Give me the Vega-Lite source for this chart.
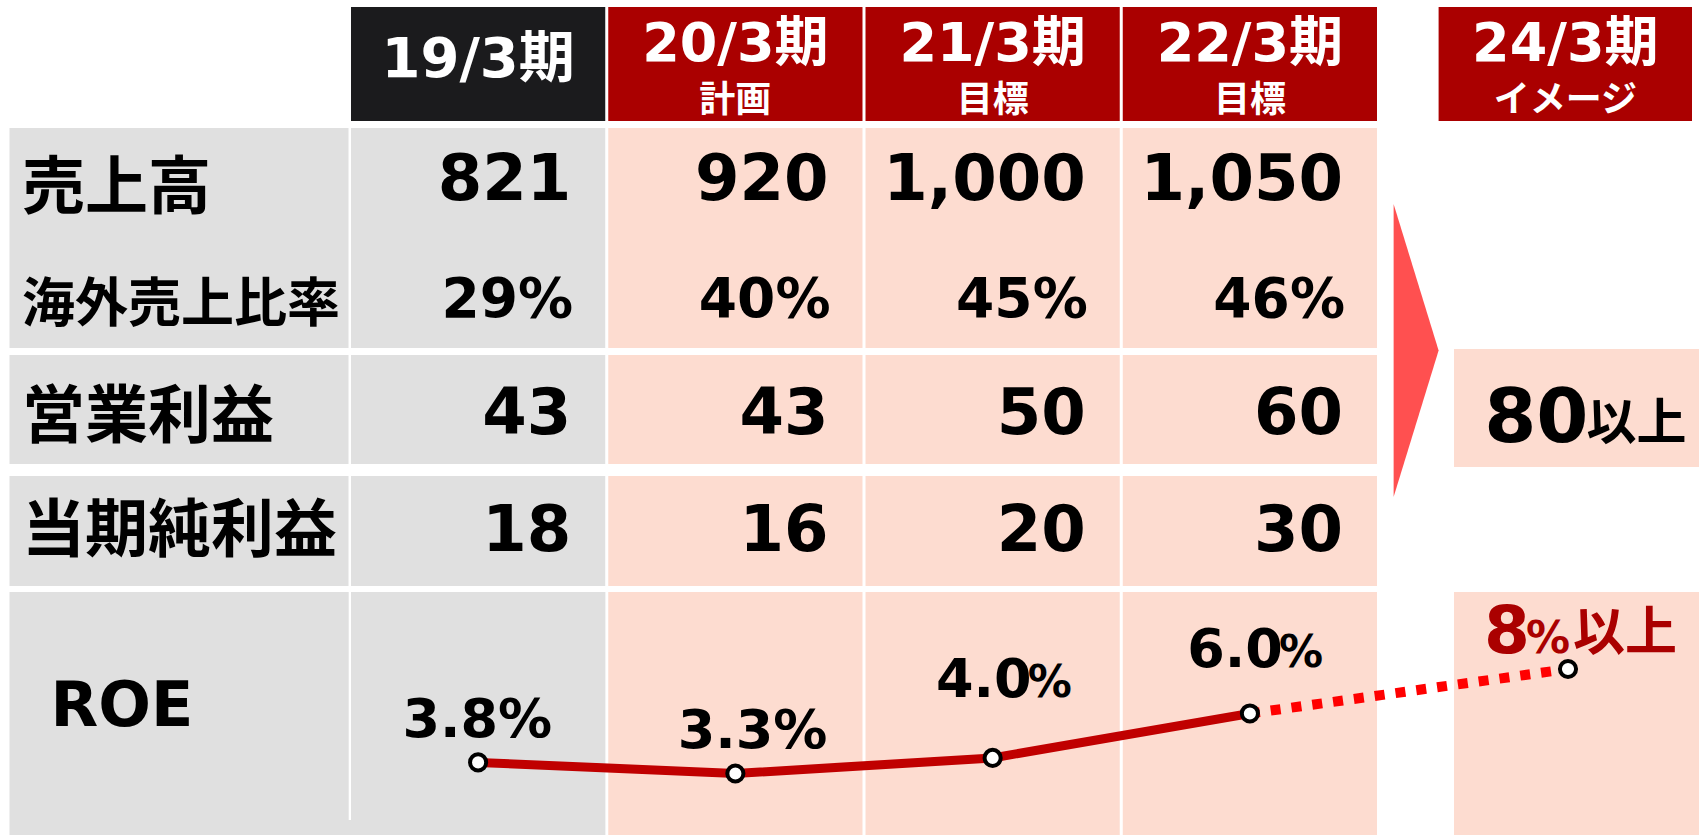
{
 "$schema": "https://vega.github.io/schema/vega-lite/v6.json",
 "width": 1699, "height": 835, "padding": 0, "autosize": {"type": "none"},
 "background": "#FFFFFF",
 "config": {"view": {"stroke": null}, "text": {"fontWeight": "bold"}},
 "datasets": {
  "periods": [
   {"period": "19/3期", "note": "", "kind": "実績"},
   {"period": "20/3期", "note": "計画", "kind": "計画"},
   {"period": "21/3期", "note": "目標", "kind": "目標"},
   {"period": "22/3期", "note": "目標", "kind": "目標"}
  ],
  "image": [{"period": "24/3期", "note": "イメージ", "op": 80, "roe": 8}],
  "metrics": [{"metric": "売上高"}, {"metric": "海外売上比率"}, {"metric": "営業利益"}, {"metric": "当期純利益"}, {"metric": "ROE"}],
  "values": [
   {"period": "19/3期", "metric": "売上高", "value": 821},
   {"period": "20/3期", "metric": "売上高", "value": 920},
   {"period": "21/3期", "metric": "売上高", "value": 1000},
   {"period": "22/3期", "metric": "売上高", "value": 1050},
   {"period": "19/3期", "metric": "海外売上比率", "value": 0.29},
   {"period": "20/3期", "metric": "海外売上比率", "value": 0.40},
   {"period": "21/3期", "metric": "海外売上比率", "value": 0.45},
   {"period": "22/3期", "metric": "海外売上比率", "value": 0.46},
   {"period": "19/3期", "metric": "営業利益", "value": 43},
   {"period": "20/3期", "metric": "営業利益", "value": 43},
   {"period": "21/3期", "metric": "営業利益", "value": 50},
   {"period": "22/3期", "metric": "営業利益", "value": 60},
   {"period": "19/3期", "metric": "当期純利益", "value": 18},
   {"period": "20/3期", "metric": "当期純利益", "value": 16},
   {"period": "21/3期", "metric": "当期純利益", "value": 20},
   {"period": "22/3期", "metric": "当期純利益", "value": 30}
  ],
  "roe": [
   {"period": "19/3期", "fy": 2019, "roe": 3.8},
   {"period": "20/3期", "fy": 2020, "roe": 3.3},
   {"period": "21/3期", "fy": 2021, "roe": 4.0},
   {"period": "22/3期", "fy": 2022, "roe": 6.0},
   {"period": "24/3期", "fy": 2024, "roe": 8.0}
  ]
 },
 "resolve": {"scale": {"x": "independent", "y": "independent", "size": "independent"}},
 "layer": [
  {"data": {"name": "periods"}, "mark": {"type": "rect"},
   "encoding": {
    "x": {"field": "period", "type": "nominal", "scale": {"type": "band", "domain": ["19/3期", "20/3期", "21/3期", "22/3期"], "range": [351, 1377], "paddingInner": 0.0117, "paddingOuter": 0}, "axis": null},
    "y": {"datum": "見出し", "type": "nominal", "scale": {"type": "band", "domain": ["見出し"], "range": [7, 121], "paddingInner": 0, "paddingOuter": 0}, "axis": null},
    "color": {"condition": {"test": "datum.kind === '実績'", "value": "#1B1B1D"}, "value": "#AA0000"}}},
  {"data": {"name": "image"}, "mark": {"type": "rect", "color": "#AA0000"},
   "encoding": {
    "x": {"field": "period", "type": "nominal", "scale": {"type": "band", "domain": ["24/3期"], "range": [1438.6, 1692], "paddingInner": 0, "paddingOuter": 0}, "axis": null},
    "y": {"datum": "見出し", "type": "nominal", "scale": {"type": "band", "domain": ["見出し"], "range": [7, 121], "paddingInner": 0, "paddingOuter": 0}, "axis": null}}},
  {"data": {"name": "periods"}, "transform": [{"filter": "datum.note === ''"}],
   "mark": {"type": "text", "font": "DejaVu Sans, Noto Sans CJK JP", "fontSize": 56, "fontWeight": "bold", "color": "#FFFFFF", "align": "center", "baseline": "alphabetic", "dy": 13},
   "encoding": {
    "x": {"field": "period", "type": "nominal", "scale": {"type": "band", "domain": ["19/3期", "20/3期", "21/3期", "22/3期"], "range": [351, 1377], "paddingInner": 0.0117, "paddingOuter": 0}, "axis": null},
    "y": {"datum": "見出し", "type": "nominal", "scale": {"type": "band", "domain": ["見出し"], "range": [7, 121], "paddingInner": 0, "paddingOuter": 0}, "axis": null},
    "text": {"field": "period"}}},
  {"data": {"name": "periods"}, "transform": [{"filter": "datum.note !== ''"}],
   "mark": {"type": "text", "font": "DejaVu Sans, Noto Sans CJK JP", "fontSize": 54, "fontWeight": "bold", "color": "#FFFFFF", "align": "center", "baseline": "alphabetic", "dy": -3},
   "encoding": {
    "x": {"field": "period", "type": "nominal", "scale": {"type": "band", "domain": ["19/3期", "20/3期", "21/3期", "22/3期"], "range": [351, 1377], "paddingInner": 0.0117, "paddingOuter": 0}, "axis": null},
    "y": {"datum": "見出し", "type": "nominal", "scale": {"type": "band", "domain": ["見出し"], "range": [7, 121], "paddingInner": 0, "paddingOuter": 0}, "axis": null},
    "text": {"field": "period"}}},
  {"data": {"name": "periods"}, "transform": [{"filter": "datum.note !== ''"}],
   "mark": {"type": "text", "font": "Noto Sans CJK JP", "fontSize": 36, "fontWeight": "bold", "color": "#FFFFFF", "align": "center", "baseline": "alphabetic", "dy": 48},
   "encoding": {
    "x": {"field": "period", "type": "nominal", "scale": {"type": "band", "domain": ["19/3期", "20/3期", "21/3期", "22/3期"], "range": [351, 1377], "paddingInner": 0.0117, "paddingOuter": 0}, "axis": null},
    "y": {"datum": "見出し", "type": "nominal", "scale": {"type": "band", "domain": ["見出し"], "range": [7, 121], "paddingInner": 0, "paddingOuter": 0}, "axis": null},
    "text": {"field": "note"}}},
  {"data": {"name": "image"},
   "mark": {"type": "text", "font": "DejaVu Sans, Noto Sans CJK JP", "fontSize": 54, "fontWeight": "bold", "color": "#FFFFFF", "align": "center", "baseline": "alphabetic", "dy": -3},
   "encoding": {
    "x": {"field": "period", "type": "nominal", "scale": {"type": "band", "domain": ["24/3期"], "range": [1438.6, 1692], "paddingInner": 0, "paddingOuter": 0}, "axis": null},
    "y": {"datum": "見出し", "type": "nominal", "scale": {"type": "band", "domain": ["見出し"], "range": [7, 121], "paddingInner": 0, "paddingOuter": 0}, "axis": null},
    "text": {"field": "period"}}},
  {"data": {"name": "image"},
   "mark": {"type": "text", "font": "Noto Sans CJK JP", "fontSize": 36, "fontWeight": "bold", "color": "#FFFFFF", "align": "center", "baseline": "alphabetic", "dy": 48},
   "encoding": {
    "x": {"field": "period", "type": "nominal", "scale": {"type": "band", "domain": ["24/3期"], "range": [1438.6, 1692], "paddingInner": 0, "paddingOuter": 0}, "axis": null},
    "y": {"datum": "見出し", "type": "nominal", "scale": {"type": "band", "domain": ["見出し"], "range": [7, 121], "paddingInner": 0, "paddingOuter": 0}, "axis": null},
    "text": {"field": "note"}}},
  {"data": {"name": "periods"}, "mark": {"type": "rect"},
   "encoding": {
    "x": {"field": "period", "type": "nominal", "scale": {"type": "band", "domain": ["19/3期", "20/3期", "21/3期", "22/3期"], "range": [351, 1377], "paddingInner": 0.0117, "paddingOuter": 0}, "axis": null},
    "y": {"datum": "売上高", "type": "nominal", "scale": {"type": "band", "domain": ["売上高"], "range": [128, 348], "paddingInner": 0, "paddingOuter": 0}, "axis": null},
    "color": {"condition": {"test": "datum.kind === '実績'", "value": "#E0E0E0"}, "value": "#FDDCD0"}}},
  {"data": {"name": "periods"}, "mark": {"type": "rect"},
   "encoding": {
    "x": {"field": "period", "type": "nominal", "scale": {"type": "band", "domain": ["19/3期", "20/3期", "21/3期", "22/3期"], "range": [351, 1377], "paddingInner": 0.0117, "paddingOuter": 0}, "axis": null},
    "y": {"datum": "営業利益", "type": "nominal", "scale": {"type": "band", "domain": ["営業利益"], "range": [355, 464], "paddingInner": 0, "paddingOuter": 0}, "axis": null},
    "color": {"condition": {"test": "datum.kind === '実績'", "value": "#E0E0E0"}, "value": "#FDDCD0"}}},
  {"data": {"name": "periods"}, "mark": {"type": "rect"},
   "encoding": {
    "x": {"field": "period", "type": "nominal", "scale": {"type": "band", "domain": ["19/3期", "20/3期", "21/3期", "22/3期"], "range": [351, 1377], "paddingInner": 0.0117, "paddingOuter": 0}, "axis": null},
    "y": {"datum": "当期純利益", "type": "nominal", "scale": {"type": "band", "domain": ["当期純利益"], "range": [476, 586], "paddingInner": 0, "paddingOuter": 0}, "axis": null},
    "color": {"condition": {"test": "datum.kind === '実績'", "value": "#E0E0E0"}, "value": "#FDDCD0"}}},
  {"data": {"name": "periods"}, "mark": {"type": "rect"},
   "encoding": {
    "x": {"field": "period", "type": "nominal", "scale": {"type": "band", "domain": ["19/3期", "20/3期", "21/3期", "22/3期"], "range": [351, 1377], "paddingInner": 0.0117, "paddingOuter": 0}, "axis": null},
    "y": {"datum": "ROE", "type": "nominal", "scale": {"type": "band", "domain": ["ROE"], "range": [592, 835], "paddingInner": 0, "paddingOuter": 0}, "axis": null},
    "color": {"condition": {"test": "datum.kind === '実績'", "value": "#E0E0E0"}, "value": "#FDDCD0"}}},
  {"data": {"name": "metrics"}, "transform": [{"filter": "datum.metric === '売上高'"}], "mark": {"type": "rect", "color": "#E0E0E0"},
   "encoding": {
    "x": {"datum": "項目", "type": "nominal", "scale": {"type": "band", "domain": ["項目"], "range": [9.5, 348.5], "paddingInner": 0, "paddingOuter": 0}, "axis": null},
    "y": {"field": "metric", "type": "nominal", "scale": {"type": "band", "domain": ["売上高"], "range": [128, 348], "paddingInner": 0, "paddingOuter": 0}, "axis": null}}},
  {"data": {"name": "metrics"}, "transform": [{"filter": "datum.metric === '営業利益'"}], "mark": {"type": "rect", "color": "#E0E0E0"},
   "encoding": {
    "x": {"datum": "項目", "type": "nominal", "scale": {"type": "band", "domain": ["項目"], "range": [9.5, 348.5], "paddingInner": 0, "paddingOuter": 0}, "axis": null},
    "y": {"field": "metric", "type": "nominal", "scale": {"type": "band", "domain": ["営業利益"], "range": [355, 464], "paddingInner": 0, "paddingOuter": 0}, "axis": null}}},
  {"data": {"name": "metrics"}, "transform": [{"filter": "datum.metric === '当期純利益'"}], "mark": {"type": "rect", "color": "#E0E0E0"},
   "encoding": {
    "x": {"datum": "項目", "type": "nominal", "scale": {"type": "band", "domain": ["項目"], "range": [9.5, 348.5], "paddingInner": 0, "paddingOuter": 0}, "axis": null},
    "y": {"field": "metric", "type": "nominal", "scale": {"type": "band", "domain": ["当期純利益"], "range": [476, 586], "paddingInner": 0, "paddingOuter": 0}, "axis": null}}},
  {"data": {"name": "metrics"}, "transform": [{"filter": "datum.metric === 'ROE'"}], "mark": {"type": "rect", "color": "#E0E0E0"},
   "encoding": {
    "x": {"datum": "項目", "type": "nominal", "scale": {"type": "band", "domain": ["項目"], "range": [9.5, 605.2], "paddingInner": 0, "paddingOuter": 0}, "axis": null},
    "y": {"field": "metric", "type": "nominal", "scale": {"type": "band", "domain": ["ROE"], "range": [592, 835], "paddingInner": 0, "paddingOuter": 0}, "axis": null}}},
  {"data": {"name": "metrics"}, "transform": [{"filter": "datum.metric === 'ROE'"}], "mark": {"type": "rect", "color": "#FFFFFF"},
   "encoding": {
    "x": {"datum": "区切り", "type": "nominal", "scale": {"type": "band", "domain": ["区切り"], "range": [348.7, 351], "paddingInner": 0, "paddingOuter": 0}, "axis": null},
    "y": {"field": "metric", "type": "nominal", "scale": {"type": "band", "domain": ["ROE"], "range": [592, 820], "paddingInner": 0, "paddingOuter": 0}, "axis": null}}},
  {"data": {"name": "image"}, "mark": {"type": "rect", "color": "#FDDCD0"},
   "encoding": {
    "x": {"field": "period", "type": "nominal", "scale": {"type": "band", "domain": ["24/3期"], "range": [1454, 1699], "paddingInner": 0, "paddingOuter": 0}, "axis": null},
    "y": {"datum": "営業利益", "type": "nominal", "scale": {"type": "band", "domain": ["営業利益"], "range": [349, 467], "paddingInner": 0, "paddingOuter": 0}, "axis": null}}},
  {"data": {"name": "image"}, "mark": {"type": "rect", "color": "#FDDCD0"},
   "encoding": {
    "x": {"field": "period", "type": "nominal", "scale": {"type": "band", "domain": ["24/3期"], "range": [1454, 1699], "paddingInner": 0, "paddingOuter": 0}, "axis": null},
    "y": {"datum": "ROE", "type": "nominal", "scale": {"type": "band", "domain": ["ROE"], "range": [592, 835], "paddingInner": 0, "paddingOuter": 0}, "axis": null}}},
  {"data": {"name": "image"}, "mark": {"type": "point", "shape": "M-0.1536,-1L0.1536,0L-0.1536,1Z", "size": 85849, "filled": true, "fill": "#FF5050", "strokeWidth": 0, "opacity": 1},
   "encoding": {
    "x": {"datum": "矢印", "type": "nominal", "scale": {"type": "band", "domain": ["矢印"], "range": [1393.6, 1438.6], "paddingInner": 0, "paddingOuter": 0}, "axis": null},
    "y": {"datum": "矢印", "type": "nominal", "scale": {"type": "band", "domain": ["矢印"], "range": [204, 497], "paddingInner": 0, "paddingOuter": 0}, "axis": null}}},
  {"data": {"name": "metrics"}, "transform": [{"filter": "datum.metric !== 'ROE'"}],
   "mark": {"type": "text", "font": "Noto Sans CJK JP", "fontWeight": "bold", "color": "#000000", "align": "left", "baseline": "alphabetic", "dx": 12.5},
   "encoding": {
    "x": {"datum": "項目", "type": "nominal", "bandPosition": 0, "scale": {"type": "band", "domain": ["項目"], "range": [9.5, 348.5], "paddingInner": 0, "paddingOuter": 0}, "axis": null},
    "y": {"field": "metric", "type": "nominal", "scale": {"type": "point", "domain": ["売上高", "海外売上比率", "営業利益", "当期純利益"], "range": [208, 551.3], "padding": 0}, "axis": null},
    "text": {"field": "metric"},
    "size": {"condition": {"test": "datum.metric === '海外売上比率'", "value": 53}, "value": 63}}},
  {"data": {"name": "metrics"}, "transform": [{"filter": "datum.metric === 'ROE'"}],
   "mark": {"type": "text", "font": "DejaVu Sans, Noto Sans CJK JP", "fontSize": 62, "fontWeight": "bold", "color": "#000000", "align": "left", "baseline": "alphabetic", "dx": 41, "dy": 12.5},
   "encoding": {
    "x": {"datum": "項目", "type": "nominal", "bandPosition": 0, "scale": {"type": "band", "domain": ["項目"], "range": [9.5, 348.5], "paddingInner": 0, "paddingOuter": 0}, "axis": null},
    "y": {"field": "metric", "type": "nominal", "scale": {"type": "band", "domain": ["ROE"], "range": [592, 835], "paddingInner": 0, "paddingOuter": 0}, "axis": null},
    "text": {"field": "metric"}}},
  {"data": {"name": "values"}, "transform": [{"filter": "datum.metric !== '海外売上比率'"}],
   "mark": {"type": "text", "font": "DejaVu Sans, Noto Sans CJK JP", "fontSize": 64, "fontWeight": "bold", "color": "#000000", "align": "right", "baseline": "alphabetic", "dx": -34},
   "encoding": {
    "x": {"field": "period", "type": "nominal", "bandPosition": 1, "scale": {"type": "band", "domain": ["19/3期", "20/3期", "21/3期", "22/3期"], "range": [351, 1377], "paddingInner": 0.0117, "paddingOuter": 0}, "axis": null},
    "y": {"field": "metric", "type": "nominal", "scale": {"type": "point", "domain": ["売上高", "海外売上比率", "営業利益", "当期純利益"], "range": [200, 551], "padding": 0}, "axis": null},
    "text": {"field": "value", "type": "quantitative", "format": ","}}},
  {"data": {"name": "values"}, "transform": [{"filter": "datum.metric === '海外売上比率'"}],
   "mark": {"type": "text", "font": "DejaVu Sans, Noto Sans CJK JP", "fontSize": 55, "fontWeight": "bold", "color": "#000000", "align": "right", "baseline": "alphabetic", "dx": -32},
   "encoding": {
    "x": {"field": "period", "type": "nominal", "bandPosition": 1, "scale": {"type": "band", "domain": ["19/3期", "20/3期", "21/3期", "22/3期"], "range": [351, 1377], "paddingInner": 0.0117, "paddingOuter": 0}, "axis": null},
    "y": {"field": "metric", "type": "nominal", "scale": {"type": "point", "domain": ["売上高", "海外売上比率", "営業利益", "当期純利益"], "range": [200, 551], "padding": 0}, "axis": null},
    "text": {"field": "value", "type": "quantitative", "format": ".0%"}}},
  {"data": {"name": "image"},
   "mark": {"type": "text", "font": "DejaVu Sans, Noto Sans CJK JP", "fontSize": 75, "fontWeight": "bold", "color": "#000000", "align": "right", "baseline": "alphabetic", "dx": 12, "dy": 34},
   "encoding": {
    "x": {"field": "period", "type": "nominal", "scale": {"type": "band", "domain": ["24/3期"], "range": [1454, 1699], "paddingInner": 0, "paddingOuter": 0}, "axis": null},
    "y": {"datum": "営業利益", "type": "nominal", "scale": {"type": "band", "domain": ["営業利益"], "range": [349, 467], "paddingInner": 0, "paddingOuter": 0}, "axis": null},
    "text": {"field": "op", "type": "quantitative", "format": "d"}}},
  {"data": {"name": "image"},
   "mark": {"type": "text", "text": "以上", "font": "Noto Sans CJK JP", "fontSize": 50, "fontWeight": "bold", "color": "#000000", "align": "left", "baseline": "alphabetic", "dx": 10, "dy": 32},
   "encoding": {
    "x": {"field": "period", "type": "nominal", "scale": {"type": "band", "domain": ["24/3期"], "range": [1454, 1699], "paddingInner": 0, "paddingOuter": 0}, "axis": null},
    "y": {"datum": "営業利益", "type": "nominal", "scale": {"type": "band", "domain": ["営業利益"], "range": [349, 467], "paddingInner": 0, "paddingOuter": 0}, "axis": null}}},
  {"data": {"name": "roe"}, "transform": [{"filter": "datum.fy <= 2022"}],
   "mark": {"type": "line", "color": "#C00000", "strokeWidth": 9},
   "encoding": {
    "x": {"field": "fy", "type": "quantitative", "scale": {"type": "linear", "domain": [2019, 2022, 2024], "range": [478.1, 1249.9, 1568], "nice": false, "zero": false}, "axis": null},
    "y": {"field": "roe", "type": "quantitative", "scale": {"type": "linear", "domain": [3.3, 8], "range": [773.5, 669], "nice": false, "zero": false}, "axis": null}}},
  {"data": {"name": "roe"}, "transform": [{"filter": "datum.fy >= 2022"}],
   "mark": {"type": "line", "color": "#FF0000", "strokeWidth": 10, "strokeDash": [10, 11], "strokeCap": "butt"},
   "encoding": {
    "x": {"field": "fy", "type": "quantitative", "scale": {"type": "linear", "domain": [2019, 2022, 2024], "range": [478.1, 1249.9, 1568], "nice": false, "zero": false}, "axis": null},
    "y": {"field": "roe", "type": "quantitative", "scale": {"type": "linear", "domain": [3.3, 8], "range": [773.5, 669], "nice": false, "zero": false}, "axis": null}}},
  {"data": {"name": "roe"},
   "mark": {"type": "point", "shape": "circle", "filled": true, "fill": "#FFFFFF", "stroke": "#000000", "strokeWidth": 4, "size": 260, "opacity": 1},
   "encoding": {
    "x": {"field": "fy", "type": "quantitative", "scale": {"type": "linear", "domain": [2019, 2022, 2024], "range": [478.1, 1249.9, 1568], "nice": false, "zero": false}, "axis": null},
    "y": {"field": "roe", "type": "quantitative", "scale": {"type": "linear", "domain": [3.3, 8], "range": [773.5, 669], "nice": false, "zero": false}, "axis": null}}},
  {"data": {"name": "roe"}, "transform": [{"filter": "datum.fy === 2019"}],
   "mark": {"type": "text", "font": "DejaVu Sans, Noto Sans CJK JP", "fontSize": 54, "fontWeight": "bold", "color": "#000000", "align": "right", "baseline": "alphabetic", "dx": 20, "dy": -25.4},
   "encoding": {
    "x": {"field": "fy", "type": "quantitative", "scale": {"type": "linear", "domain": [2019, 2022, 2024], "range": [478.1, 1249.9, 1568], "nice": false, "zero": false}, "axis": null},
    "y": {"field": "roe", "type": "quantitative", "scale": {"type": "linear", "domain": [3.3, 8], "range": [773.5, 669], "nice": false, "zero": false}, "axis": null},
    "text": {"field": "roe", "type": "quantitative", "format": ".1f"}}},
  {"data": {"name": "roe"}, "transform": [{"filter": "datum.fy === 2019"}],
   "mark": {"type": "text", "text": "%", "font": "DejaVu Sans, Noto Sans CJK JP", "fontSize": 54, "fontWeight": "bold", "color": "#000000", "align": "left", "baseline": "alphabetic", "dx": 20, "dy": -25.4},
   "encoding": {
    "x": {"field": "fy", "type": "quantitative", "scale": {"type": "linear", "domain": [2019, 2022, 2024], "range": [478.1, 1249.9, 1568], "nice": false, "zero": false}, "axis": null},
    "y": {"field": "roe", "type": "quantitative", "scale": {"type": "linear", "domain": [3.3, 8], "range": [773.5, 669], "nice": false, "zero": false}, "axis": null}}},
  {"data": {"name": "roe"}, "transform": [{"filter": "datum.fy === 2020"}],
   "mark": {"type": "text", "font": "DejaVu Sans, Noto Sans CJK JP", "fontSize": 54, "fontWeight": "bold", "color": "#000000", "align": "right", "baseline": "alphabetic", "dx": 38, "dy": -25.5},
   "encoding": {
    "x": {"field": "fy", "type": "quantitative", "scale": {"type": "linear", "domain": [2019, 2022, 2024], "range": [478.1, 1249.9, 1568], "nice": false, "zero": false}, "axis": null},
    "y": {"field": "roe", "type": "quantitative", "scale": {"type": "linear", "domain": [3.3, 8], "range": [773.5, 669], "nice": false, "zero": false}, "axis": null},
    "text": {"field": "roe", "type": "quantitative", "format": ".1f"}}},
  {"data": {"name": "roe"}, "transform": [{"filter": "datum.fy === 2020"}],
   "mark": {"type": "text", "text": "%", "font": "DejaVu Sans, Noto Sans CJK JP", "fontSize": 54, "fontWeight": "bold", "color": "#000000", "align": "left", "baseline": "alphabetic", "dx": 38, "dy": -25.5},
   "encoding": {
    "x": {"field": "fy", "type": "quantitative", "scale": {"type": "linear", "domain": [2019, 2022, 2024], "range": [478.1, 1249.9, 1568], "nice": false, "zero": false}, "axis": null},
    "y": {"field": "roe", "type": "quantitative", "scale": {"type": "linear", "domain": [3.3, 8], "range": [773.5, 669], "nice": false, "zero": false}, "axis": null}}},
  {"data": {"name": "roe"}, "transform": [{"filter": "datum.fy === 2021"}],
   "mark": {"type": "text", "font": "DejaVu Sans, Noto Sans CJK JP", "fontSize": 54, "fontWeight": "bold", "color": "#000000", "align": "right", "baseline": "alphabetic", "dx": 39, "dy": -61},
   "encoding": {
    "x": {"field": "fy", "type": "quantitative", "scale": {"type": "linear", "domain": [2019, 2022, 2024], "range": [478.1, 1249.9, 1568], "nice": false, "zero": false}, "axis": null},
    "y": {"field": "roe", "type": "quantitative", "scale": {"type": "linear", "domain": [3.3, 8], "range": [773.5, 669], "nice": false, "zero": false}, "axis": null},
    "text": {"field": "roe", "type": "quantitative", "format": ".1f"}}},
  {"data": {"name": "roe"}, "transform": [{"filter": "datum.fy === 2021"}],
   "mark": {"type": "text", "text": "%", "font": "DejaVu Sans, Noto Sans CJK JP", "fontSize": 44, "fontWeight": "bold", "color": "#000000", "align": "left", "baseline": "alphabetic", "dx": 35, "dy": -61},
   "encoding": {
    "x": {"field": "fy", "type": "quantitative", "scale": {"type": "linear", "domain": [2019, 2022, 2024], "range": [478.1, 1249.9, 1568], "nice": false, "zero": false}, "axis": null},
    "y": {"field": "roe", "type": "quantitative", "scale": {"type": "linear", "domain": [3.3, 8], "range": [773.5, 669], "nice": false, "zero": false}, "axis": null}}},
  {"data": {"name": "roe"}, "transform": [{"filter": "datum.fy === 2022"}],
   "mark": {"type": "text", "font": "DejaVu Sans, Noto Sans CJK JP", "fontSize": 54, "fontWeight": "bold", "color": "#000000", "align": "right", "baseline": "alphabetic", "dx": 33, "dy": -46.5},
   "encoding": {
    "x": {"field": "fy", "type": "quantitative", "scale": {"type": "linear", "domain": [2019, 2022, 2024], "range": [478.1, 1249.9, 1568], "nice": false, "zero": false}, "axis": null},
    "y": {"field": "roe", "type": "quantitative", "scale": {"type": "linear", "domain": [3.3, 8], "range": [773.5, 669], "nice": false, "zero": false}, "axis": null},
    "text": {"field": "roe", "type": "quantitative", "format": ".1f"}}},
  {"data": {"name": "roe"}, "transform": [{"filter": "datum.fy === 2022"}],
   "mark": {"type": "text", "text": "%", "font": "DejaVu Sans, Noto Sans CJK JP", "fontSize": 44, "fontWeight": "bold", "color": "#000000", "align": "left", "baseline": "alphabetic", "dx": 29, "dy": -46.5},
   "encoding": {
    "x": {"field": "fy", "type": "quantitative", "scale": {"type": "linear", "domain": [2019, 2022, 2024], "range": [478.1, 1249.9, 1568], "nice": false, "zero": false}, "axis": null},
    "y": {"field": "roe", "type": "quantitative", "scale": {"type": "linear", "domain": [3.3, 8], "range": [773.5, 669], "nice": false, "zero": false}, "axis": null}}},
  {"data": {"name": "roe"}, "transform": [{"filter": "datum.fy === 2024"}],
   "mark": {"type": "text", "font": "DejaVu Sans, Noto Sans CJK JP", "fontSize": 66, "fontWeight": "bold", "color": "#AA0000", "align": "right", "baseline": "alphabetic", "dx": -38, "dy": -16},
   "encoding": {
    "x": {"field": "fy", "type": "quantitative", "scale": {"type": "linear", "domain": [2019, 2022, 2024], "range": [478.1, 1249.9, 1568], "nice": false, "zero": false}, "axis": null},
    "y": {"field": "roe", "type": "quantitative", "scale": {"type": "linear", "domain": [3.3, 8], "range": [773.5, 669], "nice": false, "zero": false}, "axis": null},
    "text": {"field": "roe", "type": "quantitative", "format": "d"}}},
  {"data": {"name": "roe"}, "transform": [{"filter": "datum.fy === 2024"}],
   "mark": {"type": "text", "text": "%", "font": "DejaVu Sans, Noto Sans CJK JP", "fontSize": 44, "fontWeight": "bold", "color": "#AA0000", "align": "left", "baseline": "alphabetic", "dx": -42, "dy": -16},
   "encoding": {
    "x": {"field": "fy", "type": "quantitative", "scale": {"type": "linear", "domain": [2019, 2022, 2024], "range": [478.1, 1249.9, 1568], "nice": false, "zero": false}, "axis": null},
    "y": {"field": "roe", "type": "quantitative", "scale": {"type": "linear", "domain": [3.3, 8], "range": [773.5, 669], "nice": false, "zero": false}, "axis": null}}},
  {"data": {"name": "roe"}, "transform": [{"filter": "datum.fy === 2024"}],
   "mark": {"type": "text", "text": "以上", "font": "Noto Sans CJK JP", "fontSize": 52, "fontWeight": "bold", "color": "#AA0000", "align": "left", "baseline": "alphabetic", "dx": 5, "dy": -19},
   "encoding": {
    "x": {"field": "fy", "type": "quantitative", "scale": {"type": "linear", "domain": [2019, 2022, 2024], "range": [478.1, 1249.9, 1568], "nice": false, "zero": false}, "axis": null},
    "y": {"field": "roe", "type": "quantitative", "scale": {"type": "linear", "domain": [3.3, 8], "range": [773.5, 669], "nice": false, "zero": false}, "axis": null}}}
 ]
}
